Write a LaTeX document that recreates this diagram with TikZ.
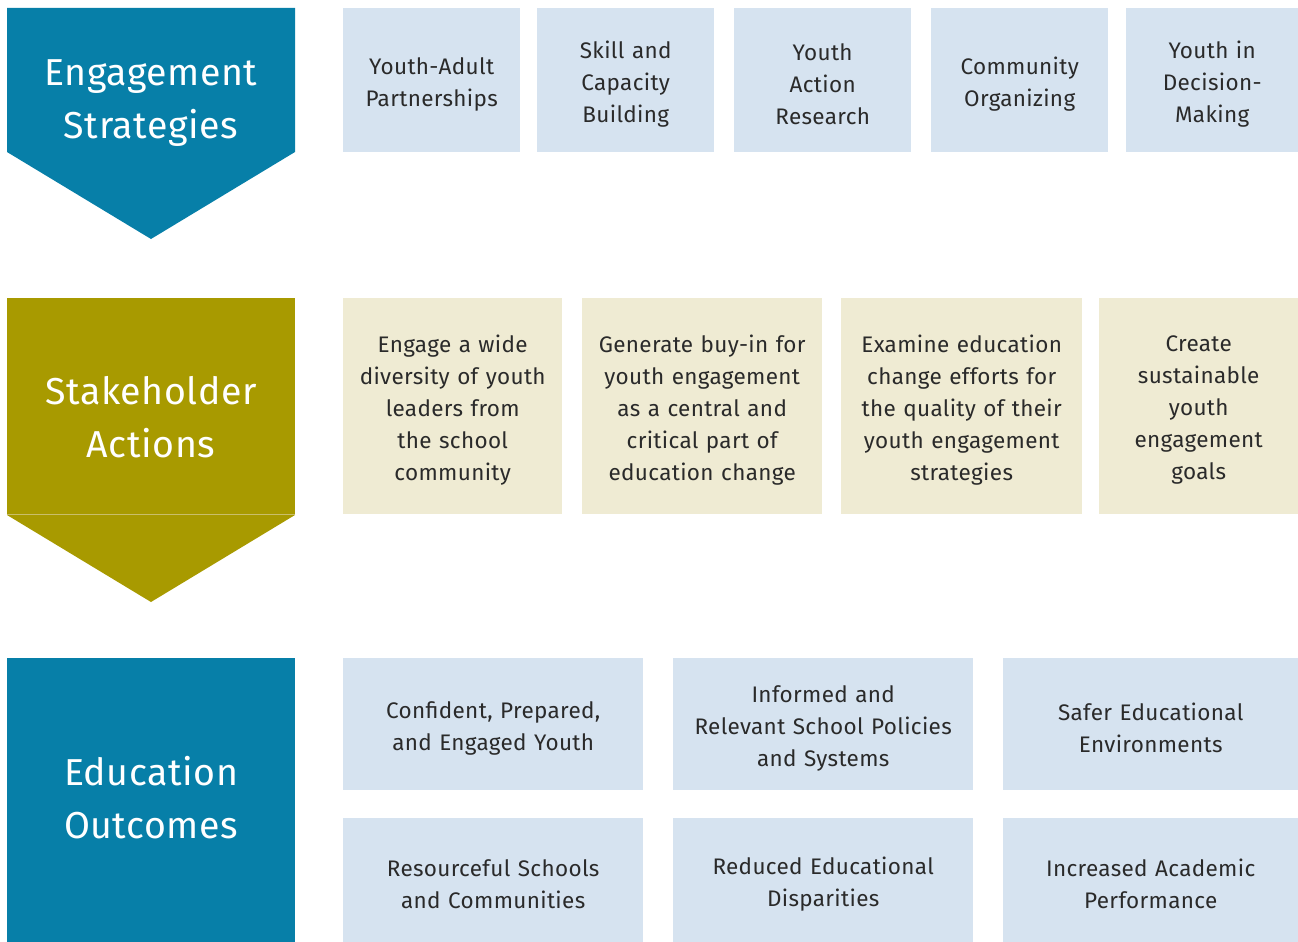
\documentclass[tikz,border=0pt]{standalone}
\usepackage{fontspec}
\setmainfont{Fira Sans}[LetterSpace=1.5]
\begin{document}
\definecolor{teal}{HTML}{077FA8}
\definecolor{olive}{HTML}{A89A00}
\definecolor{oliveline}{HTML}{C9BE6A}
\definecolor{paleblue}{HTML}{D6E3F0}
\definecolor{cream}{HTML}{EFEBD3}
\definecolor{ink}{HTML}{2A2A2A}
% box: name, x, y, width, height, fill, text
\newcommand\mkcard[7]{%
  \node[box,fill=#6,minimum width=#4,minimum height=#5] (#1) at (#2,#3) {};
  \node[cardtext,text width=#4-8] (#1-t) at ([yshift=-4]#1.center) {#7};}
\begin{tikzpicture}[x=1pt,y=-1pt,
  head/.style={text=white,font=\fontsize{37.5}{53}\selectfont,align=center,inner sep=0},
  box/.style={anchor=north west,inner sep=0,draw=none},
  cardtext/.style={inner sep=0,text=ink,align=center,
    font=\fontsize{22.5}{32}\selectfont}]
\useasboundingbox (0,0) rectangle (1298,942);

% section headers
\fill[teal] (7,8) -- (295,8) -- (295,152) -- (151,239) -- (7,152) -- cycle;
\node[head] (engage) at (151,103) {Engagement\\Strategies};

\fill[olive] (7,298) rectangle (295,514);
\fill[olive] (7,515) -- (295,515) -- (151,602) -- cycle;
\draw[oliveline,line width=0.8] (7,514.5) -- (295,514.5);
\node[head] (stake) at (151,417) {Stakeholder\\Actions};

\fill[teal] (7,658) rectangle (295,942);
\node[head] (outcome) at (151,798) {Education\\Outcomes};

% engagement strategies
\mkcard{s1}{343}{8}{177}{144}{paleblue}{Youth-Adult\\Partnerships}
\mkcard{s2}{537}{8}{177}{144}{paleblue}{Skill and\\Capacity\\Building}
\mkcard{s3}{734}{8}{177}{144}{paleblue}{Youth\\Action\\Research}
\mkcard{s4}{931}{8}{177}{144}{paleblue}{Community\\Organizing}
\mkcard{s5}{1126}{8}{172}{144}{paleblue}{Youth in\\Decision-\\Making}

% stakeholder actions
\mkcard{a1}{343}{298}{219}{216}{cream}{Engage a wide\\diversity of youth\\leaders from\\the school\\community}
\mkcard{a2}{582}{298}{240}{216}{cream}{Generate buy-in for\\youth engagement\\as a central and\\critical part of\\education change}
\mkcard{a3}{841}{298}{241}{216}{cream}{Examine education\\change efforts for\\the quality of their\\youth engagement\\strategies}
\mkcard{a4}{1099}{298}{199}{216}{cream}{Create\\sustainable\\youth\\engagement\\goals}

% education outcomes
\mkcard{o1}{343}{658}{300}{132}{paleblue}{Confident, Prepared,\\and Engaged Youth}
\mkcard{o2}{673}{658}{300}{132}{paleblue}{Informed and\\Relevant School Policies\\and Systems}
\mkcard{o3}{1003}{658}{295}{132}{paleblue}{Safer Educational\\Environments}
\mkcard{o4}{343}{818}{300}{124}{paleblue}{Resourceful Schools\\and Communities}
\mkcard{o5}{673}{818}{300}{124}{paleblue}{Reduced Educational\\Disparities}
\mkcard{o6}{1003}{818}{295}{124}{paleblue}{Increased Academic\\Performance}
\end{tikzpicture}
\end{document}
